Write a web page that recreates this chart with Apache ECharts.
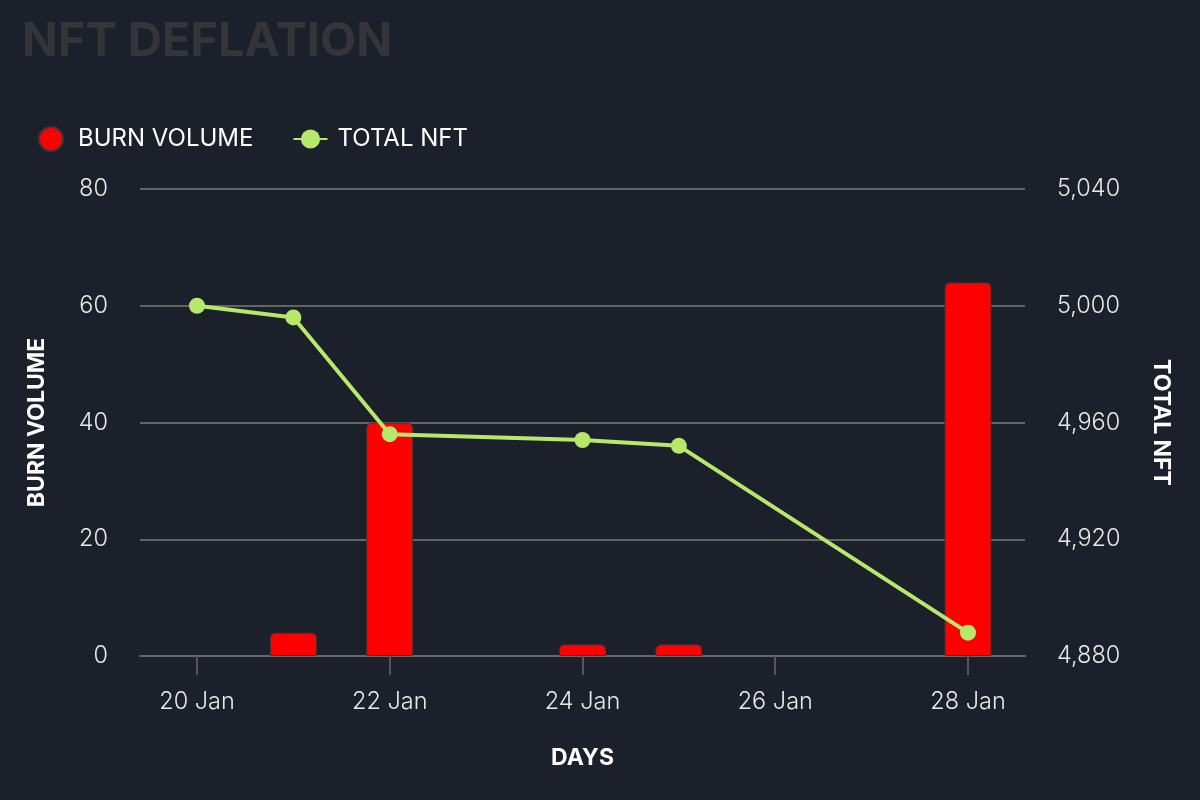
<!DOCTYPE html>
<html>
<head>
<meta charset="utf-8">
<script src="https://cdn.jsdelivr.net/npm/echarts@6/dist/echarts.min.js"></script>
<style>
html,body{margin:0;padding:0;background:#1b202b;}
#chart{width:1200px;height:800px;}
</style>
</head>
<body>
<div id="chart"></div>
<script>
const burnDates = ['2022-01-21', '2022-01-22', '2022-01-24', '2022-01-25', '2022-01-28'];
const burnVolume = [4, 40, 2, 2, 64];
const totalDates = ['2022-01-20', '2022-01-21', '2022-01-22', '2022-01-24', '2022-01-25', '2022-01-28'];
const totalNft = [5000, 4996, 4956, 4954, 4952, 4888];
const tickDates = ['2022-01-20', '2022-01-22', '2022-01-24', '2022-01-26', '2022-01-28'];

const DAY = 86400000;
const ts = s => echarts.number.parseDate(s).getTime();
const tickValues = tickDates.map(ts);
const xMin = tickValues[0] - 0.5915 * DAY;
const xMax = tickValues[tickValues.length - 1] + 0.5915 * DAY;
const MONTHS = ['Jan','Feb','Mar','Apr','May','Jun','Jul','Aug','Sep','Oct','Nov','Dec'];

const chart = echarts.init(document.getElementById('chart'));
const font = 'Inter, "Noto Sans", sans-serif';
chart.setOption({
  backgroundColor: '#1b202b',
  animation: false,
  textStyle: { fontFamily: font },
  title: {
    text: 'NFT DEFLATION',
    left: 17, top: 13,
    textStyle: { color: '#333539', fontSize: 47, fontWeight: 'bold', fontFamily: font }
  },
  legend: {
    left: 33, top: 121,
    itemWidth: 34, itemHeight: 24, itemGap: 39,
    textStyle: { color: '#ffffff', fontSize: 24, fontFamily: font, padding: [0, 0, 0, 5] },
    data: [
      { name: 'BURN VOLUME', icon: 'circle' },
      { name: 'TOTAL NFT' }
    ]
  },
  grid: { left: 140, right: 175, top: 189, bottom: 144 },
  xAxis: {
    type: 'value',
    min: xMin,
    max: xMax,
    name: 'DAYS',
    nameLocation: 'middle',
    nameGap: 91,
    nameTextStyle: { color: '#ffffff', fontSize: 23, fontWeight: 'bold' },
    axisLine: { lineStyle: { color: '#666666', width: 2 } },
    axisTick: { show: true, length: 19, customValues: tickValues, lineStyle: { color: '#555555', width: 2 } },
    axisLabel: {
      color: '#e8e8e8', fontSize: 23.5, fontWeight: 300, margin: 34,
      customValues: tickValues,
      showMinLabel: true, showMaxLabel: true,
      formatter: v => { const d = new Date(v); return d.getDate() + ' ' + MONTHS[d.getMonth()]; }
    },
    splitLine: { show: false }
  },
  yAxis: [
    {
      type: 'value', min: 0, max: 80, interval: 20,
      name: 'BURN VOLUME', nameLocation: 'middle', nameGap: 91, nameRotate: 90,
      nameTextStyle: { color: '#ffffff', fontSize: 23, fontWeight: 'bold' },
      axisLabel: { color: '#e8e8e8', fontSize: 23.5, fontWeight: 300, margin: 32 },
      axisLine: { show: false }, axisTick: { show: false },
      splitLine: { lineStyle: { color: '#646464', width: 2 } }
    },
    {
      type: 'value', min: 4880, max: 5040, interval: 40,
      name: 'TOTAL NFT', nameLocation: 'middle', nameGap: 124, nameRotate: -90,
      nameTextStyle: { color: '#ffffff', fontSize: 23, fontWeight: 'bold' },
      axisLabel: { color: '#e8e8e8', fontSize: 23.5, fontWeight: 300, margin: 32, formatter: v => v.toLocaleString('en-US') },
      axisLine: { show: false }, axisTick: { show: false },
      splitLine: { show: false }
    }
  ],
  series: [
    {
      name: 'BURN VOLUME', type: 'bar', yAxisIndex: 0,
      barWidth: 47,
      itemStyle: { color: '#ff0000', borderColor: '#3d3536', borderWidth: 1, borderRadius: [5, 5, 0, 0] },
      data: burnDates.map((d, i) => [ts(d), burnVolume[i]])
    },
    {
      name: 'TOTAL NFT', type: 'line', yAxisIndex: 1,
      symbol: 'circle', symbolSize: 16,
      lineStyle: { color: '#b6e86c', width: 4 },
      itemStyle: { color: '#b6e86c' },
      data: totalDates.map((d, i) => [ts(d), totalNft[i]])
    }
  ]
});
</script>
</body>
</html>
